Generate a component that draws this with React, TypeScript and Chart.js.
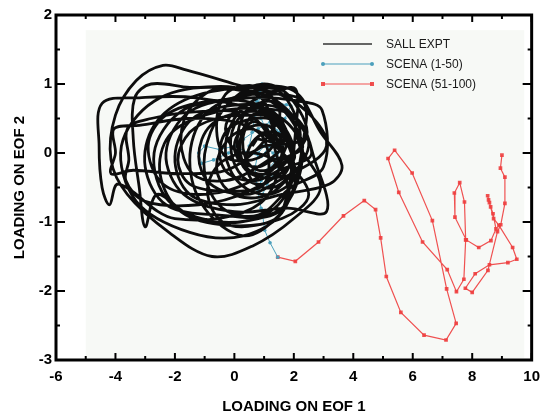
import React, { useEffect, useRef } from 'react';
import { Chart, registerables } from 'chart.js';

Chart.register(...registerables);

const xTicks = [-6, -4, -2, 0, 2, 4, 6, 8, 10];
const yTicks = [-3, -2, -1, 0, 1, 2];
const seriesNames = ['SALL EXPT', 'SCENA (1-50)', 'SCENA (51-100)'];
const xTitle = 'LOADING ON EOF 1';
const yTitle = 'LOADING ON EOF 2';

// SALL EXPT trajectory (loop by loop)
const sallExpt: [number, number][] = [
  [0.8, 0.2],
  [1.6, 0.15], [1.2, 0.38], [0.7, 0.4], [0.2, 0.3], [0.0, 0.1], [0.2, -0.12], [0.8, -0.2], [1.3, -0.1],
  [2.0, 0.0], [1.0, 0.55], [-1.3, 0.8], [-3.2, 0.8], [-4.45, 0.72], [-4.55, 0.1], [-4.45, -0.5], [-4.2, -0.75], [-3.9, -0.45], [-2.0, -0.95], [0.9, -0.72],
  [1.7, 0.3], [1.3, 0.6], [0.6, 0.65], [0.0, 0.4], [-0.1, 0.0], [0.3, -0.35], [1.0, -0.45], [1.6, -0.2],
  [2.0, 0.05], [1.4, 0.5], [0.4, 0.6], [-0.8, 0.4], [-1.2, -0.05], [-0.8, -0.45], [0.4, -0.6], [1.5, -0.4],
  [3.1, 0.1], [2.0, 0.75], [0.0, 1.0], [-1.6, 1.2], [-2.4, 1.27], [-3.3, 1.05], [-4.0, 0.55], [-4.15, -0.1], [-3.6, -0.6], [-2.2, -1.15], [-0.75, -1.5], [0.6, -1.35], [2.0, -0.95], [2.9, -0.5],
  [2.2, 0.1], [1.9, 0.55], [1.2, 0.75], [0.4, 0.6], [0.1, 0.2], [0.3, -0.2], [0.9, -0.35], [1.7, -0.3],
  [1.9, 0.1], [1.4, 0.45], [0.7, 0.5], [-0.2, 0.35], [-0.5, 0.0], [-0.2, -0.3], [0.7, -0.4], [1.5, -0.25],
  [2.6, 0.0], [1.6, 0.7], [0.0, 0.95], [-1.5, 0.95], [-2.8, 1.0], [-3.35, 0.8], [-3.4, 0.2], [-3.2, -0.5], [-3.0, -1.07], [-2.6, -0.6], [-1.5, -0.9], [0.2, -1.0], [1.8, -0.7],
  [1.4, 0.0], [1.1, 0.35], [0.6, 0.45], [0.3, 0.25], [0.4, -0.1], [0.8, -0.25], [1.3, -0.2],
  [1.8, 0.2], [1.4, 0.55], [0.8, 0.6], [0.3, 0.35], [0.2, 0.0], [0.5, -0.25], [1.1, -0.3], [1.6, -0.1],
  [2.3, 0.1], [1.4, 0.7], [-0.7, 0.95], [-2.7, 0.75], [-3.8, 0.1], [-3.3, -0.7], [-1.5, -1.15], [0.3, -1.2], [1.7, -0.8],
  [2.4, 0.4], [2.3, 0.75], [1.6, 0.85], [0.8, 0.8], [0.0, 0.5], [-0.3, 0.0], [0.2, -0.45], [1.2, -0.6], [2.1, -0.3],
  [1.4, 0.1], [0.5, 0.55], [-1.2, 0.6], [-2.8, 0.5], [-3.6, 0.35], [-3.55, -0.1], [-3.65, -0.4], [-3.0, -0.7], [-1.2, -0.75], [0.5, -0.55],
  [2.0, -0.1], [1.6, 0.25], [1.1, 0.3], [0.6, 0.15], [0.4, -0.15], [0.7, -0.45], [1.3, -0.5], [1.8, -0.35],
  [1.9, -0.2], [1.2, 0.2], [0.5, 0.35], [-0.2, 0.2], [-0.6, -0.2], [-0.2, -0.55], [0.7, -0.65], [1.5, -0.5],
  [2.5, 0.1], [1.8, 0.6], [0.2, 0.7], [-1.4, 0.5], [-2.0, -0.05], [-1.5, -0.6], [0.0, -0.75], [1.6, -0.6],
  [3.2, -0.45], [3.62, -0.18], [2.9, 0.3], [2.0, 0.9], [0.5, 0.95], [-1.5, 0.8], [-2.7, 0.4], [-3.0, -0.2], [-2.3, -0.75], [-0.5, -0.9], [1.5, -0.85],
  [2.3, 0.0], [1.6, 0.5], [0.5, 0.55], [-0.6, 0.5], [-1.5, 0.3], [-1.9, -0.1], [-1.5, -0.45], [-0.3, -0.55], [1.0, -0.45],
  [1.0, 0.2], [0.0, 0.45], [-1.6, 0.5], [-3.2, 0.4], [-4.05, 0.35], [-4.0, 0.0], [-4.15, -0.3], [-3.4, -0.25], [-1.8, -0.3], [0.0, -0.2],
  [1.5, 0.5], [1.2, 0.85], [0.5, 0.98], [-0.3, 0.85], [-0.6, 0.4], [-0.3, -0.05], [0.6, -0.1], [1.3, 0.1],
  [1.3, 0.35], [1.0, 0.65], [0.5, 0.7], [0.0, 0.6], [-0.3, 0.35], [0.0, 0.05], [0.5, 0.0], [1.0, 0.1],
  [2.2, 0.2], [1.5, 0.9], [0.3, 0.85], [-1.0, 0.55], [-1.5, -0.1], [-1.0, -0.8], [0.3, -1.2], [1.5, -0.9],
  [1.8, -0.5], [1.3, -0.1], [0.3, 0.0], [-0.6, -0.2], [-0.9, -0.6], [-0.4, -1.0], [0.7, -1.05], [1.6, -0.85],
  [2.1, 0.5], [2.05, 0.93], [1.4, 0.9], [0.0, 0.8], [-1.8, 0.6], [-2.7, 0.0], [-2.2, -0.7], [-0.5, -1.0], [1.2, -0.85], [2.0, -0.3],
  [1.6, 0.3], [0.8, 0.7], [-0.8, 0.75], [-2.3, 0.55], [-2.9, 0.1], [-2.4, -0.45], [-1.0, -0.6], [0.6, -0.4],
  [2.4, 0.2], [1.9, 0.8], [1.0, 1.0], [0.0, 0.8], [-0.8, 0.3], [-1.0, -0.3], [-0.4, -0.8], [0.8, -0.9], [1.9, -0.5],
  [3.0, -0.2], [2.95, 0.62], [2.2, 0.75], [0.5, 0.8], [-1.5, 0.6], [-2.3, 0.0], [-1.7, -0.6], [0.0, -0.85], [1.8, -0.8], [3.1, -0.85],
  [2.7, -0.1], [2.1, 0.5], [0.7, 0.65], [-1.0, 0.55], [-2.2, 0.25], [-2.5, -0.3], [-1.8, -0.85], [-0.2, -1.05], [1.6, -0.95], [2.5, -0.6],
  [1.6, 0.0], [0.9, 0.8], [-0.4, 0.95], [-1.4, 0.7], [-1.8, 0.2], [-1.4, -0.3], [-0.3, -0.4], [0.8, -0.2],
  [1.6, 0.1], [1.0, 0.3], [0.6, 0.1],
];

// SCENA (1-50)
const scena1to50: [number, number][] = [
  [0.5, 0.1], [0.6, 0.3], [0.7, 0.55], [0.85, 0.8], [0.93, 1.0], [0.85, 0.9], [0.75, 0.75], [0.9, 0.5],
  [1.1, 0.3], [1.3, 0.55], [1.5, 0.72], [1.75, 0.7], [1.9, 0.68], [1.7, 0.5], [1.4, 0.3], [1.2, 0.1],
  [0.9, -0.05], [0.5, 0.0], [0.0, 0.1], [-0.5, 0.05], [-1.0, 0.1], [-1.2, 0.0], [-1.1, -0.15], [-0.7, -0.1],
  [-0.2, 0.0], [0.3, 0.2], [0.8, 0.35], [1.2, 0.45], [1.5, 0.3], [1.6, 0.1], [1.4, -0.1], [1.1, -0.25],
  [0.9, -0.4], [0.8, -0.55], [0.95, -0.6], [1.1, -0.45], [1.3, -0.35], [1.5, -0.2], [1.3, 0.0], [1.0, 0.1],
  [0.8, 0.0], [0.7, -0.2], [0.75, -0.45], [0.85, -0.7], [0.9, -0.8], [0.95, -0.9], [1.02, -1.12], [1.2, -1.3],
  [1.46, -1.51],
];

// SCENA (51-100)
const scena51to100: [number, number][] = [
  [1.46, -1.51], [2.05, -1.57], [2.83, -1.29], [3.67, -0.91], [4.37, -0.69], [4.75, -0.82], [4.92, -1.23],
  [5.11, -1.79], [5.6, -2.31], [6.38, -2.64], [7.12, -2.71], [7.46, -2.47], [7.14, -1.97], [6.66, -0.98],
  [5.98, -0.29], [5.39, 0.04], [5.17, -0.08], [5.53, -0.57], [6.33, -1.29], [7.16, -1.69], [7.47, -2.01],
  [7.72, -1.83], [7.78, -1.26], [7.74, -0.71], [7.58, -0.43], [7.4, -0.58], [7.42, -0.93], [7.8, -1.26],
  [8.22, -1.37], [8.63, -1.27], [8.8, -1.1], [8.7, -0.88], [8.62, -0.78], [8.55, -0.68], [8.52, -0.62],
  [8.58, -0.72], [8.72, -0.95], [8.9, -1.05], [9.36, -1.37], [9.5, -1.54], [9.2, -1.59], [8.58, -1.62],
  [8.1, -1.75], [7.77, -1.96], [8.0, -2.02], [8.53, -1.7], [8.85, -1.14], [8.96, -1.04], [9.1, -0.73],
  [9.1, -0.35], [8.95, -0.22], [9.0, -0.03],
];

const toPts = (arr: [number, number][]) => arr.map(([x, y]) => ({ x, y }));

const FONT = "'Liberation Sans', Arial, Helvetica, sans-serif";
const BLACK = '#0d0d0d';
const CYAN = 'rgb(75,160,188)';
const RED = 'rgba(238,62,62,0.9)';

const bgPlugin = {
  id: 'innerBg',
  beforeDatasetsDraw(chart: any) {
    const { ctx, scales } = chart;
    const x = scales.x, y = scales.y;
    const l = x.getPixelForValue(-5);
    const r = x.getPixelForValue(9.75);
    const t = y.getPixelForValue(1.78);
    const b = y.getPixelForValue(-2.97);
    ctx.save();
    ctx.fillStyle = 'rgb(247,249,246)';
    ctx.fillRect(l, t, r - l, b - t);
    ctx.restore();
  },
};

const framePlugin = {
  id: 'frameTicksLegend',
  afterDraw(chart: any) {
    const { ctx, chartArea, scales } = chart;
    const { left, right, top, bottom } = chartArea;
    const x = scales.x, y = scales.y;
    const seg = (x1: number, y1: number, x2: number, y2: number) => {
      ctx.beginPath();
      ctx.moveTo(x1, y1);
      ctx.lineTo(x2, y2);
      ctx.stroke();
    };
    ctx.save();
    ctx.strokeStyle = '#000';
    ctx.lineWidth = 3;
    ctx.strokeRect(left, top, right - left, bottom - top);
    ctx.lineWidth = 2;
    for (let v = x.min; v <= x.max; v += 1) {
      const px = x.getPixelForValue(v);
      const len = v % 2 === 0 ? 7 : 4;
      seg(px, bottom, px, bottom - len);
      seg(px, top, px, top + len);
    }
    for (let v = y.min; v <= y.max + 1e-9; v += 0.5) {
      const py = y.getPixelForValue(v);
      const len = Number.isInteger(v) ? 9 : 4;
      seg(left, py, left + len, py);
      seg(right, py, right - len, py);
    }

    // legend
    const lx1 = 323, lx2 = 372, tx = 386;
    const rows = [44, 64, 84];
    ctx.lineWidth = 1.5;
    ctx.strokeStyle = '#333';
    seg(lx1, rows[0], lx2, rows[0]);
    ctx.lineWidth = 1.2;
    ctx.strokeStyle = CYAN;
    ctx.fillStyle = CYAN;
    seg(lx1, rows[1], lx2, rows[1]);
    [lx1, lx2].forEach((px) => {
      ctx.beginPath();
      ctx.arc(px, rows[1], 2, 0, Math.PI * 2);
      ctx.fill();
    });
    ctx.strokeStyle = RED;
    ctx.fillStyle = RED;
    seg(lx1, rows[2], lx2, rows[2]);
    [lx1, lx2].forEach((px) => ctx.fillRect(px - 2, rows[2] - 2, 4, 4));
    ctx.fillStyle = '#1a1a1a';
    ctx.font = `12px ${FONT}`;
    ctx.textAlign = 'left';
    ctx.textBaseline = 'middle';
    seriesNames.forEach((n, i) => ctx.fillText(n, tx, rows[i] + 1));
    ctx.restore();
  },
};

export default function App() {
  const ref = useRef<HTMLCanvasElement | null>(null);
  useEffect(() => {
    if (!ref.current) return;
    const tickFont = { family: FONT, size: 15, weight: 'bold' as const };
    const chart = new Chart(ref.current, {
      type: 'scatter',
      data: {
        datasets: [
          {
            label: seriesNames[0],
            data: toPts(sallExpt),
            showLine: true,
            borderColor: BLACK,
            backgroundColor: BLACK,
            borderWidth: 2.8,
            pointRadius: 0,
            pointHoverRadius: 0,
            tension: 0.35,
          },
          {
            label: seriesNames[1],
            data: toPts(scena1to50),
            showLine: true,
            borderColor: CYAN,
            backgroundColor: CYAN,
            borderWidth: 1,
            pointRadius: 1.8,
            pointBorderWidth: 0,
            tension: 0,
          },
          {
            label: seriesNames[2],
            data: toPts(scena51to100),
            showLine: true,
            borderColor: RED,
            backgroundColor: RED,
            borderWidth: 1.2,
            pointStyle: 'rect',
            pointRadius: 2.6,
            pointBorderWidth: 0,
            tension: 0,
          },
        ],
      },
      options: {
        responsive: false,
        animation: false,
        devicePixelRatio: 1,
        layout: { padding: { top: 15, right: 13, left: 0, bottom: 0 } },
        plugins: { legend: { display: false }, tooltip: { enabled: false } },
        scales: {
          x: {
            type: 'linear',
            min: -6,
            max: 10,
            afterBuildTicks: (s: any) => {
              s.ticks = xTicks.map((v) => ({ value: v }));
            },
            afterFit: (s: any) => {
              s.height = 54;
            },
            grid: { display: false, drawTicks: false },
            border: { display: false },
            ticks: { font: tickFont, color: '#000', padding: 8, maxRotation: 0, autoSkip: false },
            title: {
              display: true,
              text: xTitle,
              color: '#000',
              font: { family: FONT, size: 15, weight: 'bold', lineHeight: 1 },
              padding: { top: 0, bottom: 0 },
            },
          },
          y: {
            type: 'linear',
            min: -3,
            max: 2,
            afterBuildTicks: (s: any) => {
              s.ticks = yTicks.map((v) => ({ value: v }));
            },
            afterFit: (s: any) => {
              s.width = 56;
            },
            grid: { display: false, drawTicks: false },
            border: { display: false },
            ticks: { font: tickFont, color: '#000', padding: 4, autoSkip: false },
            title: {
              display: true,
              text: yTitle,
              color: '#000',
              font: { family: FONT, size: 15, weight: 'bold', lineHeight: 1 },
              padding: { top: 12.5, bottom: 0 },
            },
          },
        },
      },
      plugins: [bgPlugin, framePlugin],
    } as any);
    return () => chart.destroy();
  }, []);
  return (
    <div style={{ position: 'fixed', left: 0, top: 0, width: 548, height: 414, background: '#fff' }}>
      <canvas ref={ref} width={548} height={414} style={{ display: 'block' }} />
    </div>
  );
}
